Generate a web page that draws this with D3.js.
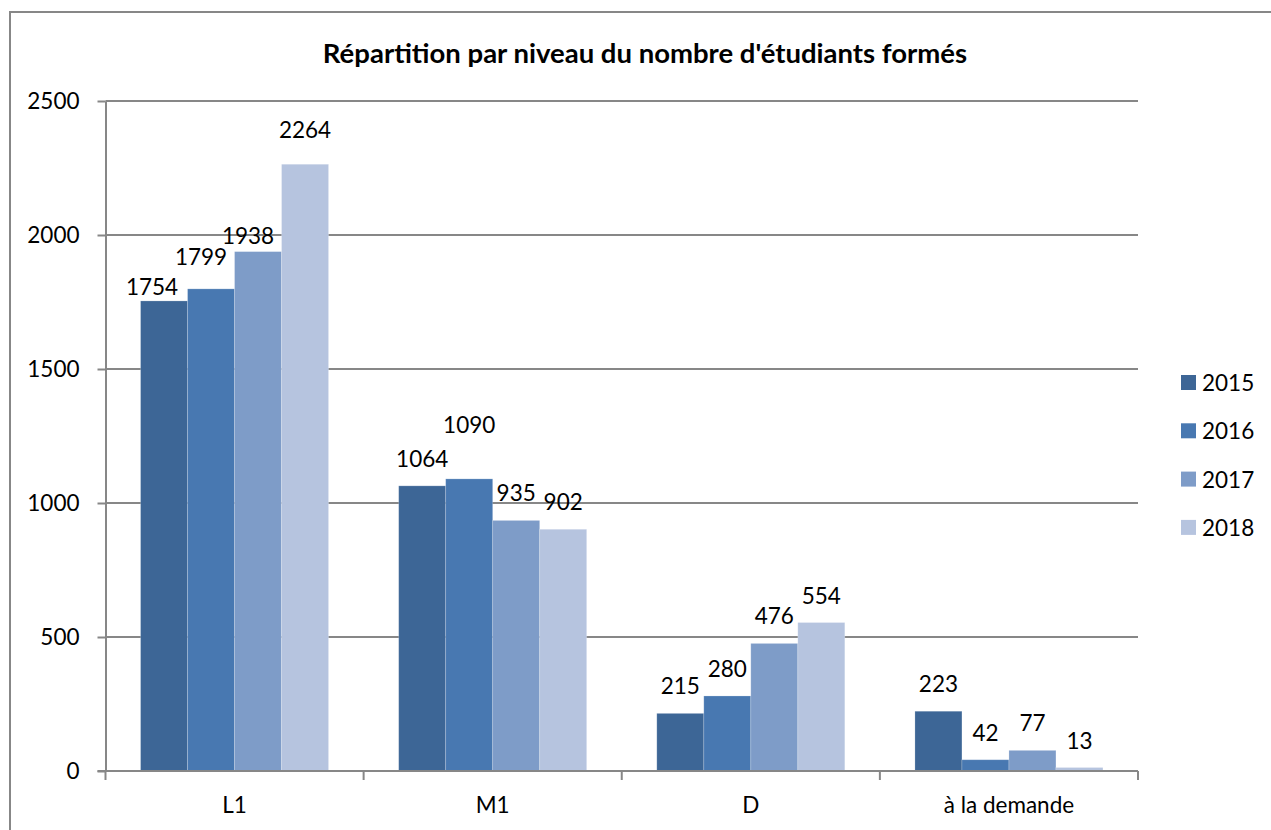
<!DOCTYPE html>
<html>
<head>
<meta charset="utf-8">
<script src="https://cdn.jsdelivr.net/npm/d3@7"></script>
<style>
  body { margin: 0; background: #fff; }
  svg { display: block; font-family: Lato, "Open Sans", sans-serif; }
</style>
</head>
<body>
<svg width="1271" height="830"></svg>
<script>
// chart data
const levels = ["L1", "M1", "D", "à la demande"];
const years = ["2015", "2016", "2017", "2018"];
const v2015 = [1754, 1064, 215, 223];
const v2016 = [1799, 1090, 280, 42];
const v2017 = [1938, 935, 476, 77];
const v2018 = [2264, 902, 554, 13];
const yTicks = [0, 500, 1000, 1500, 2000, 2500];
const colors = ["#3d6696", "#4878b1", "#7e9cc8", "#b6c4df"];

const series = [v2015, v2016, v2017, v2018];

// hand placement of a few labels, like the original (Excel moved them)
const nudge = {
  "0-0": [-12, 13], "0-1": [-10, -5], "0-2": [-10, 11], "0-3": [0, -7],
  "1-1": [0, -27]
};

let svg = d3.select("svg");
let plotL = 105.5, plotR = 1138, plotT = 101, plotB = 771;
const grey = "#878787";
const fs = 22.5;

// outer frame, right and bottom edges fall outside the picture
svg.append('rect')
    .attr('x', 10).attr('y', 12)
    .attr('width', 1400).attr('height', 1000)
    .attr('fill', "none")
    .attr('stroke', grey)
    .attr('stroke-width', 2);

let x = d3.scaleBand().domain(levels).range([plotL, plotR]);
// bar width 47 within the category band, rest split evenly on both sides
let x1 = d3.scaleBand().domain(years).range([0, x.bandwidth()]).paddingInner(0)
    .paddingOuter((x.bandwidth() - 4 * 47) / 2 / 47);
let y = d3.scaleLinear().domain([0, 2500]).range([plotB, plotT]);

// grid lines
svg.append('g')
    .selectAll('line')
    .data(yTicks.filter(d => d > 0))
    .join('line')
    .attr('x1', plotL).attr('x2', plotR)
    .attr('y1', d => y(d)).attr('y2', d => y(d))
    .attr('stroke', grey)
    .attr('stroke-width', 2);

// bars
let groups = svg.append('g')
    .selectAll('g')
    .data(levels)
    .join('g')
    .attr('transform', d => `translate(${x(d)},0)`);

groups.selectAll('rect')
    .data((lv, i) => years.map((yr, j) => ({yr, j, i, v: series[j][i]})))
    .join('rect')
    .attr('x', d => x1(d.yr))
    .attr('width', x1.bandwidth())
    .attr('y', d => y(d.v))
    .attr('height', d => y(0) - y(d.v))
    .attr('fill', (d) => colors[d.j])
    .attr('stroke', "rgba(255,255,255,0.25)")
    .attr('stroke-width', 0.8);

groups.selectAll('text')
    .data((lv, i) => years.map((yr, j) => ({yr, j, i, v: series[j][i]})))
    .join('text')
    .attr('x', d => x1(d.yr) + x1.bandwidth() / 2 + (nudge[`${d.i}-${d.j}`] || [0, 0])[0])
    .attr('y', d => y(d.v) - 19 + (nudge[`${d.i}-${d.j}`] || [0, 0])[1])
    .attr('text-anchor', "middle")
    .attr('font-size', fs)
    .attr('fill', "#000")
    .text(d => d.v);

// y axis
let yAxis = svg.append('g')
    .attr('transform', `translate(${plotL},0)`)
    .call(d3.axisLeft(y).tickValues(yTicks).tickFormat(d3.format("d"))
        .tickSize(8).tickPadding(18).tickSizeOuter(0));
yAxis.select('.domain').attr('stroke', grey).attr('stroke-width', 2);
yAxis.selectAll('.tick line').attr('stroke', grey).attr('stroke-width', 2);
yAxis.selectAll('.tick text')
    .attr('font-size', fs).attr('font-family', "Lato").attr('fill', "#000");

// x axis, ticks sit between categories
let xAxis = svg.append('g')
    .attr('transform', `translate(0,${plotB})`);
xAxis.append('line')
    .attr('x1', plotL - 8).attr('x2', plotR)
    .attr('stroke', grey).attr('stroke-width', 2);
xAxis.selectAll('line.tk')
    .data(levels.map(d => x(d)).concat([plotR]))
    .join('line')
    .attr('class', "tk")
    .attr('x1', d => d).attr('x2', d => d)
    .attr('y1', 0).attr('y2', 9)
    .attr('stroke', grey).attr('stroke-width', 2);
xAxis.selectAll('text')
    .data(levels)
    .join('text')
    .attr('x', d => x(d) + x.bandwidth() / 2)
    .attr('y', 42)
    .attr('text-anchor', "middle")
    .attr('font-size', fs)
    .text(d => d);

// title
svg.append('text')
    .attr('x', 645).attr('y', 63)
    .attr('text-anchor', "middle")
    .attr('font-size', 27.5)
    .attr('font-weight', "bold")
    .text("Répartition par niveau du nombre d'étudiants formés");

// legend
let legend = svg.append('g')
    .selectAll('g')
    .data(years)
    .join('g')
    .attr('transform', (d, i) => `translate(1181,${375 + i * 48.3})`);
legend.append('rect')
    .attr('width', 15).attr('height', 15)
    .attr('fill', (d, i) => colors[i]);
legend.append('text')
    .attr('x', 21).attr('y', 16)
    .attr('font-size', fs)
    .text(d => d);
</script>
</body>
</html>
